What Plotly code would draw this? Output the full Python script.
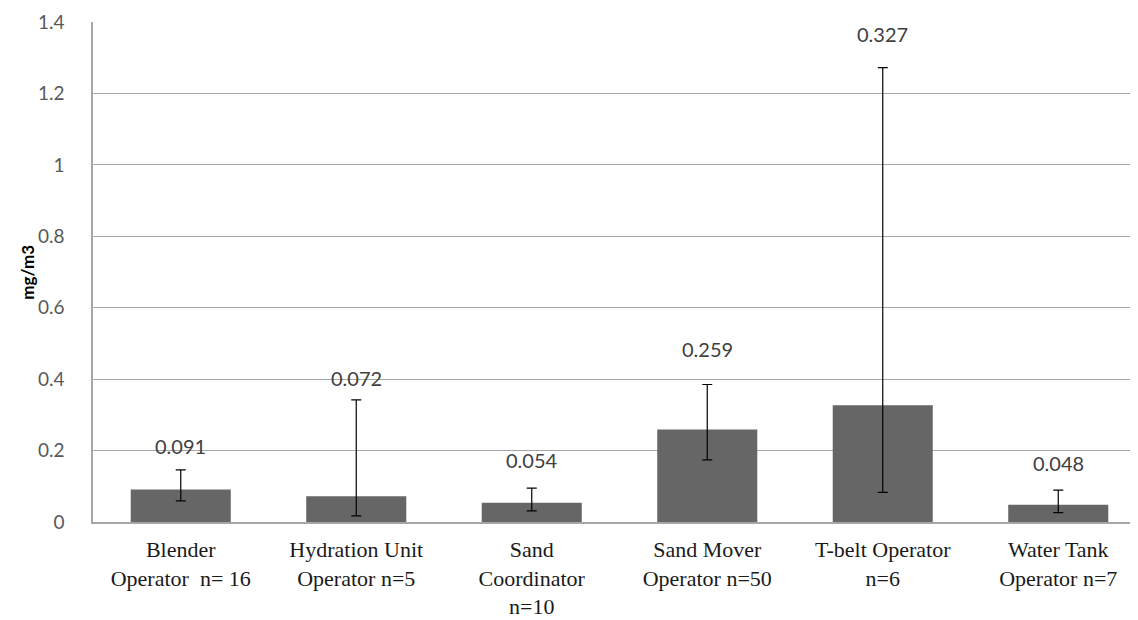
import plotly.graph_objects as go

categories = [
    "Blender<br>Operator\u00a0\u00a0n= 16",
    "Hydration Unit<br>Operator n=5",
    "Sand<br>Coordinator<br>n=10",
    "Sand Mover<br>Operator n=50",
    "T-belt Operator<br>n=6",
    "Water Tank<br>Operator n=7",
]
means = [0.091, 0.072, 0.054, 0.259, 0.327, 0.048]
upper = [0.146, 0.342, 0.095, 0.385, 1.272, 0.089]
lower = [0.059, 0.017, 0.031, 0.174, 0.083, 0.026]
labels = ["0.091", "0.072", "0.054", "0.259", "0.327", "0.048"]
y_ticks = [0, 0.2, 0.4, 0.6, 0.8, 1.0, 1.2, 1.4]
y_ticklabels = ["0", "0.2", "0.4", "0.6", "0.8", "1", "1.2", "1.4"]

# label offsets above the error-bar caps (pixels, styling only)
label_shift = [24, 22, 28, 36, 34, 27]

err_plus = [u - m for u, m in zip(upper, means)]
err_minus = [m - l for m, l in zip(means, lower)]
xs = list(range(len(categories)))

fig = go.Figure()
fig.add_trace(go.Bar(
    x=xs, y=means, width=0.57,
    marker=dict(color="#666666", line=dict(width=0)),
    error_y=dict(type="data", symmetric=False, array=err_plus, arrayminus=err_minus,
                 color="#000000", thickness=1.2, width=5),
    hoverinfo="skip",
))

for x, u, t, s in zip(xs, upper, labels, label_shift):
    fig.add_annotation(x=x, y=u, text=t, showarrow=False, yshift=s,
                       font=dict(family="Lato, Open Sans, sans-serif", size=20, color="#404040"))

fig.add_annotation(xref="paper", yref="paper", x=-0.063, y=0.5, text="<b>mg/m3</b>",
                   textangle=-90, showarrow=False, xanchor="center", yanchor="middle",
                   font=dict(family="Lato, Open Sans, sans-serif", size=17, color="#000000"))

fig.update_layout(
    width=1138, height=620,
    margin=dict(l=85, r=0, t=14, b=106),
    paper_bgcolor="white", plot_bgcolor="white",
    showlegend=False,
    xaxis=dict(
        tickmode="array", tickvals=xs, ticktext=categories,
        range=[-0.5, 5.5],
        showgrid=False, zeroline=False, showline=True, linecolor="#a6a6a6", linewidth=1.5,
        ticks="", ticklabelstandoff=7,
        tickfont=dict(family="Liberation Serif, Times New Roman, serif", size=22, color="#1a1a1a"),
    ),
    yaxis=dict(
        range=[0, 1.4], tickmode="array", tickvals=y_ticks, ticktext=y_ticklabels,
        showgrid=True, gridcolor="#a6a6a6", gridwidth=1,
        zeroline=False, showline=True, linecolor="#a6a6a6", linewidth=1.5,
        ticks="", ticklabelstandoff=23,
        tickfont=dict(family="Lato, Open Sans, sans-serif", size=19, color="#595959"),
    ),
)

fig.write_html("out.html")
